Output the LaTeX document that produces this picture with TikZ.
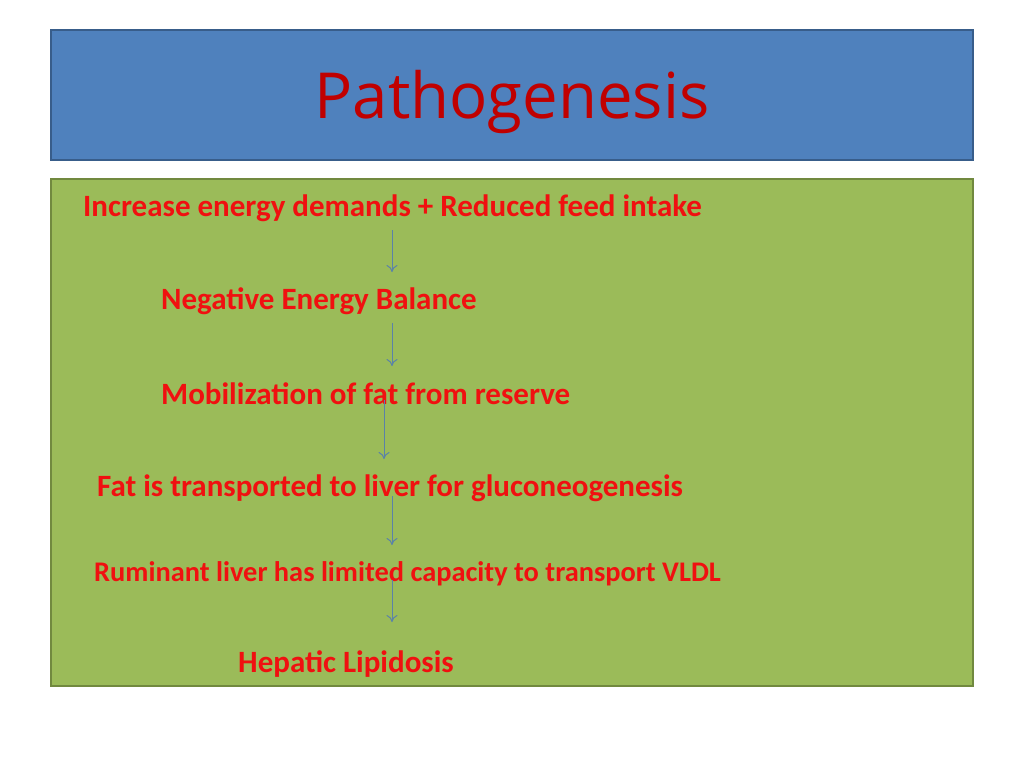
\documentclass[tikz,border=0pt]{standalone}
\usepackage{fontspec}
\setmainfont{Carlito}
\newfontfamily\titlefont{Open Sans}
\usepackage{xcolor}
\usetikzlibrary{arrows.meta}
\definecolor{boxblue}{HTML}{4F81BD}
\definecolor{boxblueline}{HTML}{385D8A}
\definecolor{boxgreen}{HTML}{9BBB59}
\definecolor{boxgreenline}{HTML}{71893F}
\definecolor{titlered}{HTML}{C00000}
\definecolor{textred}{HTML}{F01010}
\definecolor{arrowblue}{HTML}{5A82A8}

\begin{document}
\begin{tikzpicture}[x=1pt,y=-1pt,
    steptext/.style={anchor=west,inner sep=0pt,text=textred,font=\fontsize{31}{36}\selectfont\bfseries},
    flow/.style={draw=arrowblue,line width=1pt,-{To[length=7pt,width=11pt]}}]
            \useasboundingbox (0,0) rectangle (1024,768);
            % boxes
            \draw[fill=boxblue,draw=boxblueline,line width=1.5pt] (51,30) rectangle (973,160);
            \draw[fill=boxgreen,draw=boxgreenline,line width=1.5pt] (51,179) rectangle (973,686);
            \node[text=titlered,font=\titlefont\fontsize{63.5}{70}\selectfont] (title) at (512,102) {Pathogenesis};
            % steps
            \node[steptext] (demand) at (83,208) {Increase energy demands + Reduced feed intake};
            \node[steptext] (neb) at (161,301) {Negative Energy Balance};
            \node[steptext] (mobil) at (161,394) {Mobilization of fat from reserve};
            \node[steptext] (transp) at (97,488) {Fat is transported to liver for gluconeogenesis};
            \node[steptext,font=\fontsize{28.4}{33}\selectfont\bfseries] (vldl) at (94,574) {Ruminant liver has limited capacity to transport VLDL};
            \node[steptext] (lipid) at (238,664) {Hepatic Lipidosis};
            % arrows
            \coordinate (a1) at (392,230); \coordinate (b1) at (392,272);
            \coordinate (a2) at (392,323); \coordinate (b2) at (392,366);
            \coordinate (a3) at (384,400); \coordinate (b3) at (384,459);
            \coordinate (a4) at (392,496); \coordinate (b4) at (392,545);
            \coordinate (a5) at (392,580); \coordinate (b5) at (392,622);
            \foreach \n in {1,...,5} {
                \draw[flow] (a\n) -- (b\n);
            }
        \end{tikzpicture}
\end{document}
